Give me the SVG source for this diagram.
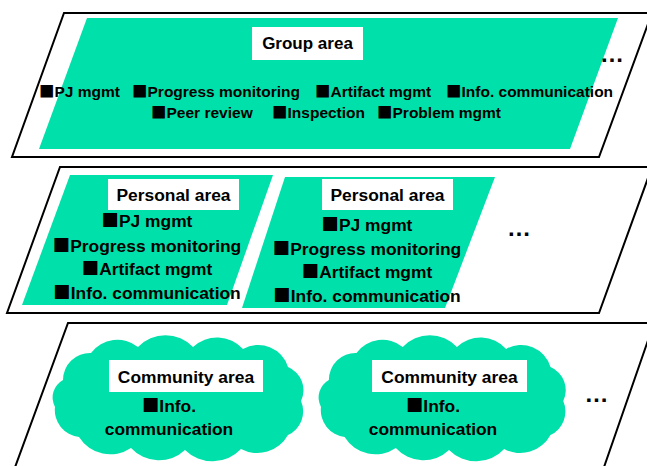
<svg xmlns="http://www.w3.org/2000/svg" xmlns:xlink="http://www.w3.org/1999/xlink" width="647" height="466" viewBox="0 0 647 466">
<style>
.frame{fill:#fff;stroke:#000;stroke-width:2}
.green{fill:#00E0AA;stroke:none}
.lbl{fill:#fff;stroke:none}
text{font-family:"Liberation Sans",Arial,sans-serif;font-weight:bold;fill:#000}
.sq{font-family:"Noto Sans CJK JP","DejaVu Sans",sans-serif}
.g{font-size:15.5px}
.t{font-size:17px}
.p{font-size:17.4px;text-anchor:middle}
.dots{font-size:24px;text-anchor:middle}
</style>
<defs>
<path id="cloud" d="M10,45 A27,27 0 0 1 38,18 A33,33 0 0 1 85,12 A38,38 0 0 1 140,12 A35,35 0 0 1 190,14 A31,31 0 0 1 235,32 A25,25 0 0 1 248,66 A26,26 0 0 1 235,100 A35,35 0 0 1 188,114 A39,39 0 0 1 132,115 A38,38 0 0 1 78,113 A37,37 0 0 1 26,102 A27,27 0 0 1 2,72 A20,20 0 0 1 10,45 Z"/>
</defs>

<g id="group-layer">
<polygon class="frame" points="64,13 652,13 599,157 12,157"/>
<polygon class="green" points="87,18 618,18 570,149 39,149"/>
<rect class="lbl" x="252" y="27" width="111" height="33"/>
<text class="t" x="307.5" y="49" text-anchor="middle">Group area</text>
<text class="g" x="39" y="97"><tspan class="sq">■</tspan>PJ mgmt</text>
<text class="g" x="132" y="97"><tspan class="sq">■</tspan>Progress monitoring</text>
<text class="g" x="315" y="97"><tspan class="sq">■</tspan>Artifact mgmt</text>
<text class="g" x="446" y="97"><tspan class="sq">■</tspan>Info. communication</text>
<text class="g" x="151" y="118"><tspan class="sq">■</tspan>Peer review</text>
<text class="g" x="272" y="118"><tspan class="sq">■</tspan>Inspection</text>
<text class="g" x="377" y="118"><tspan class="sq">■</tspan>Problem mgmt</text>
<text class="dots" x="612" y="62">…</text>
</g>

<g id="personal-layer">
<polygon class="frame" points="60,167 652,167 599,313 7,313"/>
<text class="dots" x="519" y="236">…</text>
</g>

<g id="personal-area-1">
<polygon class="green" points="70,175 273,175 227,305 22,305"/>
<rect class="lbl" x="108" y="179" width="131" height="31"/>
<text class="p" x="173.5" y="201">Personal area</text>
<text class="p" x="147" y="227"><tspan class="sq">■</tspan>PJ mgmt</text>
<text class="p" x="147" y="252"><tspan class="sq">■</tspan>Progress monitoring</text>
<text class="p" x="147" y="275"><tspan class="sq">■</tspan>Artifact mgmt</text>
<text class="p" x="147" y="299"><tspan class="sq">■</tspan>Info. communication</text>
</g>

<g id="personal-area-2">
<polygon class="green" points="285,177 495,177 445,308 242,308"/>
<rect class="lbl" x="322" y="179" width="131" height="31"/>
<text class="p" x="387.5" y="201">Personal area</text>
<text class="p" x="367" y="231"><tspan class="sq">■</tspan>PJ mgmt</text>
<text class="p" x="367" y="255"><tspan class="sq">■</tspan>Progress monitoring</text>
<text class="p" x="367" y="278"><tspan class="sq">■</tspan>Artifact mgmt</text>
<text class="p" x="367" y="302"><tspan class="sq">■</tspan>Info. communication</text>
</g>

<g id="community-layer">
<polygon class="frame" points="68,323 654,323 603,470 14,470"/>
<text class="dots" x="596.5" y="402">…</text>
</g>

<g id="community-area-1">
<use xlink:href="#cloud" href="#cloud" class="green" transform="translate(53,335)"/>
<rect class="lbl" x="109" y="360" width="154" height="32"/>
<text class="p" x="186" y="383">Community area</text>
<text class="p" x="169" y="412"><tspan class="sq">■</tspan>Info.</text>
<text class="p" x="169" y="435">communication</text>
</g>

<g id="community-area-2">
<use xlink:href="#cloud" href="#cloud" class="green" transform="translate(319,335) scale(0.985,1)"/>
<rect class="lbl" x="372" y="360" width="155" height="32"/>
<text class="p" x="449.5" y="383">Community area</text>
<text class="p" x="433" y="412"><tspan class="sq">■</tspan>Info.</text>
<text class="p" x="433" y="435">communication</text>
</g>

<g id="connectors"/>
</svg>
